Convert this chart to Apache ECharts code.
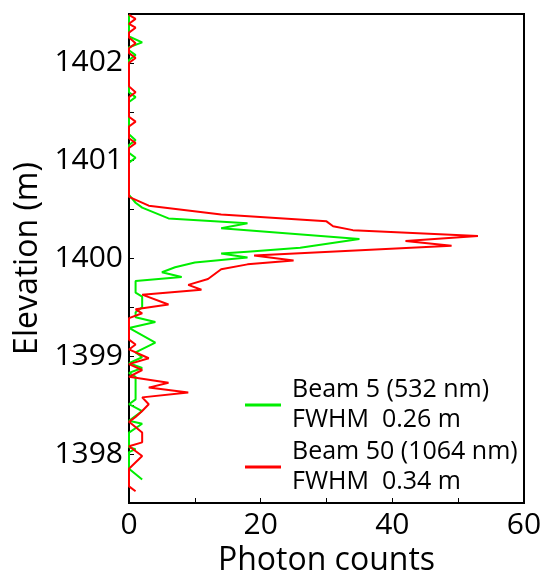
<!DOCTYPE html>
<html>
<head>
<meta charset="utf-8">
<script src="https://cdn.jsdelivr.net/npm/echarts@6/dist/echarts.min.js"></script>
<style>
html,body{margin:0;padding:0;background:#fff;}
#chart{width:545px;height:570px;}
</style>
</head>
<body>
<div id="chart"></div>
<script>
// Beam 5 (532 nm) — elevation (m) and photon counts at each vertex
const greenElev = [1402.49,1402.27,1402.21,1402.16,1402.13,1402.08,1402.03,1401.70,1401.65,1401.60,1401.27,1401.21,1401.16,1401.08,1401.03,1400.98,
  1400.65,1400.57,1400.52,1400.41,1400.36,1400.31,1400.20,1400.11,1400.07,1400.05,1400.01,1399.96,1399.91,1399.86,1399.81,1399.77,
  1399.65,1399.61,1399.55,1399.50,1399.45,1399.40,1399.35,1399.29,1399.14,1399.04,1398.99,1398.93,1398.88,1398.83,1398.79,1398.73,
  1398.56,1398.51,1398.44,1398.34,1398.31,1398.22,1398.07,1398.05,1398.02,1397.85,1397.74];
const greenCount = [0,0,2,0,0,1,0,0,1,0,0,1,0,0,1,0,
  0,1,2,6,18,14,35,26,18,14,18,10,7,5,8,1,
  1,2,2,2,1,1,4,0,4,1,2,0,2,0,1,1,
  1,0,2,0,2,0,0,1,0,0,2];

// Beam 50 (1064 nm)
const redElev = [1402.49,1402.45,1402.40,1402.36,1402.31,1402.26,1402.20,1402.15,1402.10,1402.05,1402.00,1401.76,1401.70,1401.65,1401.45,1401.40,1401.35,1401.23,1401.18,1401.13,
  1400.63,1400.54,1400.45,1400.38,1400.33,1400.29,1400.23,1400.18,1400.13,1400.03,1399.98,1399.94,1399.89,1399.79,1399.73,1399.68,1399.63,
  1399.53,1399.48,1399.44,1399.39,1399.17,1399.12,1399.07,1398.98,1398.92,1398.86,1398.79,1398.73,1398.68,1398.63,1398.58,
  1398.51,1398.44,1398.38,1398.33,1398.22,1398.12,1398.08,1397.98,1397.85,1397.67,1397.62];
const redCount = [0,1,0,1,0,0,1,0,0,1,0,0,1,0,0,1,0,0,1,0,
  0,3,14,30,31,34,53,42,49,19,25,18,14,12,9,11,2,
  6,1,2,0,0,1,0,3,0,2,0,6,3,9,2,
  3,2,1,0,2,2,0,2,0,0,1];

const seriesNames = ['Beam 5 (532 nm)\nFWHM  0.26 m', 'Beam 50 (1064 nm)\nFWHM  0.34 m'];
const xTicks = [0, 20, 40, 60];
const yTicks = [1398, 1399, 1400, 1401, 1402];

function pairs(c, e) { return c.map((v, i) => [v, e[i]]); }

const FONT = '"Open Sans", "Noto Sans", sans-serif';
const chart = echarts.init(document.getElementById('chart'), null, {renderer: 'canvas'});
chart.setOption({
  animation: false,
  backgroundColor: '#fff',
  grid: {left: 129, right: 21, top: 14, bottom: 67, show: true, borderColor: '#000', borderWidth: 2,
    backgroundColor: 'transparent', containLabel: false, outerBoundsMode: 'none'},
  legend: {
    orient: 'vertical', left: 240, top: 370,
    icon: 'rect', itemWidth: 36, itemHeight: 3, itemGap: 2,
    textStyle: {fontFamily: FONT, fontSize: 25, lineHeight: 30, color: '#000', padding: [0, 0, 0, 6]},
    data: seriesNames
  },
  xAxis: {
    type: 'value', min: 0, max: 60, interval: 10,
    name: 'Photon counts', nameLocation: 'middle', nameGap: 34,
    nameTextStyle: {fontFamily: FONT, fontSize: 32, color: '#000'},
    axisLine: {lineStyle: {color: '#000', width: 2}},
    axisTick: {inside: true, length: 5, lineStyle: {color: '#000', width: 1}},
    axisLabel: {fontFamily: FONT, fontSize: 30, color: '#000', margin: 7, showMinLabel: true, showMaxLabel: true,
      formatter: v => xTicks.includes(v) ? String(v) : ''},
    splitLine: {show: false}
  },
  yAxis: {
    type: 'value', min: 1397.5, max: 1402.5, interval: 0.5,
    name: 'Elevation (m)', nameLocation: 'middle', nameGap: 82,
    nameTextStyle: {fontFamily: FONT, fontSize: 32, color: '#000'},
    axisLine: {lineStyle: {color: '#000', width: 2}},
    axisTick: {inside: true, length: 5, lineStyle: {color: '#000', width: 1}},
    axisLabel: {fontFamily: FONT, fontSize: 30, color: '#000', margin: 6,
      formatter: v => yTicks.includes(Math.round(v * 100) / 100) ? String(Math.round(v)) : ''},
    splitLine: {show: false}
  },
  series: [
    {name: seriesNames[0], type: 'line', data: pairs(greenCount, greenElev), showSymbol: false, symbol: 'none',
      color: '#00ee00', lineStyle: {color: '#00ee00', width: 2}},
    {name: seriesNames[1], type: 'line', data: pairs(redCount, redElev), showSymbol: false, symbol: 'none',
      color: '#ff0000', lineStyle: {color: '#ff0000', width: 2}}
  ]
});
</script>
</body>
</html>
